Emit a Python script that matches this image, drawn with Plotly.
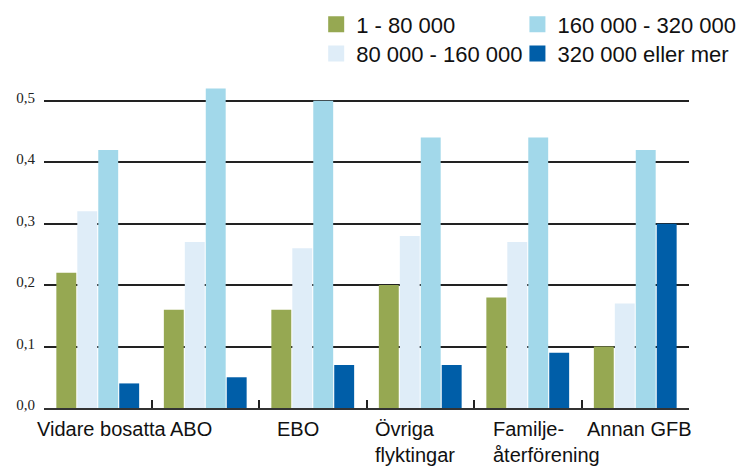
import plotly.graph_objects as go

categories = ["Vidare bosatta", "ABO", "EBO", "Övriga<br>flyktingar", "Familje-<br>återförening", "Annan GFB"]
series_names = ["1 - 80 000", "80 000 - 160 000", "160 000 - 320 000", "320 000 eller mer"]
s1 = [0.22, 0.16, 0.16, 0.20, 0.18, 0.10]
s2 = [0.32, 0.27, 0.26, 0.28, 0.27, 0.17]
s3 = [0.42, 0.52, 0.50, 0.44, 0.44, 0.42]
s4 = [0.04, 0.05, 0.07, 0.07, 0.09, 0.30]
ytick_vals = [0.0, 0.1, 0.2, 0.3, 0.4, 0.5]

colors = ["#96A852", "#DFEDF8", "#A2D8EA", "#005EA8"]
legend_ids = ["legend", "legend3", "legend2", "legend4"]
legend_pos = {"legend": (0.422, 1.135), "legend2": (0.734, 1.135),
              "legend3": (0.422, 1.048), "legend4": (0.734, 1.048)}

fig = go.Figure()
for name, vals, col in zip(series_names, [s1, s2, s3, s4], colors):
    fig.add_trace(go.Bar(x=categories, y=vals, name=name, marker=dict(color=col, line=dict(width=0)),
                         showlegend=False))
# legend entries with larger square symbols
for name, col, lg in zip(series_names, colors, legend_ids):
    fig.add_trace(go.Scatter(x=[None], y=[None], mode="markers", name=name, legend=lg,
                             marker=dict(symbol="square", size=20, color=col)))

# category labels as annotations (positions tuned to reference)
label_shift = [-63, 9, -38, -47, -37, -50]
label_anchor = ["left", "right", "left", "left", "left", "left"]
for cat, sh, an in zip(categories, label_shift, label_anchor):
    fig.add_annotation(x=cat, y=0, xref="x", yref="paper", yanchor="top", xanchor=an,
                       xshift=sh, yshift=-8, text=cat, showarrow=False, align="left",
                       font=dict(family="Liberation Sans, Arial, sans-serif", size=20, color="#111"))

legend_font = dict(family="Liberation Sans, Arial, sans-serif", size=22, color="#111")
legend_layouts = {}
for lid, (lx, ly) in legend_pos.items():
    legend_layouts[lid] = dict(orientation="v", x=lx, y=ly, xanchor="left", yanchor="middle",
                               font=legend_font, bgcolor="rgba(0,0,0,0)", itemclick=False,
                               itemdoubleclick=False)

fig.update_layout(
    width=737, height=469,
    margin=dict(l=44, r=48, t=70, b=61, autoexpand=False),
    paper_bgcolor="white", plot_bgcolor="white",
    barmode="group", bargap=0.22, bargroupgap=0.05,
    separators=", ",
    showlegend=True,
    **legend_layouts,
)
fig.update_xaxes(type="category", range=[-0.5, 5.5], showticklabels=False, showline=True,
                 linecolor="#333", linewidth=1.5,
                 ticks="inside", tickson="boundaries", ticklen=8, tickwidth=1.5, tickcolor="#222",
                 showgrid=False, fixedrange=True)
fig.update_yaxes(range=[0, 0.55], tickvals=ytick_vals, tickformat=".1f", showline=False,
                 showgrid=True, gridcolor="#222", gridwidth=1.6, zeroline=False,
                 ticks="", ticklabelstandoff=8, ticklabelshift=-3,
                 tickfont=dict(family="Liberation Serif, Times New Roman, serif", size=15, color="#222"),
                 fixedrange=True)

fig.write_html("out.html", config={"displayModeBar": False},
               post_script="document.body.style.margin='0';document.body.style.padding='0';")
